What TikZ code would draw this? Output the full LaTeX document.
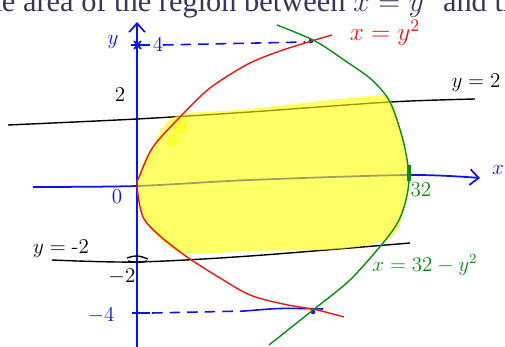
\documentclass[tikz,border=0pt]{standalone}
\usepackage{fontspec}
\newfontfamily\headfont{Liberation Serif}
\usetikzlibrary{arrows.meta}
\definecolor{pblue}{RGB}{10,20,240}
\definecolor{pred}{RGB}{240,20,20}
\definecolor{pgreen}{RGB}{10,140,20}
\definecolor{pyellow}{RGB}{255,255,0}
\definecolor{ptext}{RGB}{55,55,90}
\tikzset{
  curve/.style={line width=0.8pt},
  axisline/.style={pblue,line width=1pt},
  lbl/.style={inner sep=0pt,font=\large},
  dashline/.style={pblue,line width=0.9pt,dash pattern=on 6pt off 4pt},
}
\begin{document}
\begin{tikzpicture}[x=0.02cm,y=-0.02cm]
\useasboundingbox (0,0) rectangle (505,347);
\clip (0,0) rectangle (505,347);
% header text (cut off)
\node[anchor=base west,inner sep=0pt,text=ptext,font=\headfont\fontsize{17.3}{21}\selectfont] (head) at (-22,12) {the area of the region between $x = y^2$ and the};
% axes
\draw[axisline,-{Straight Barb[length=5pt,width=9pt]}] plot[smooth] coordinates {(33,187) (137,186) (250,180) (409,175) (480,178)};
\draw[axisline,-{Straight Barb[length=5pt,width=9pt]}] (137,347) -- (137,22);
% horizontal lines
\draw[curve,black] plot[smooth] coordinates {(8,125) (137,119) (250,112) (390,102) (475,99)};
\draw[curve,black] plot[smooth] coordinates {(52,260) (137,262) (250,256) (410,243)};
% highlighted region
\fill[pyellow,opacity=0.6] plot[smooth cycle] coordinates {(176,116) (250,109) (370,96) (391,101) (403,140) (409,175) (404,210) (390,238) (340,249) (250,251) (187,254) (165,243) (150,228) (141,210) (138,188) (141,168) (153,146)};
\fill[pyellow,opacity=0.5] (180,126) circle (8);
\fill[pyellow,opacity=0.5] (173,141) circle (6);
% ticks
\draw[axisline] (131,45) -- (150,45);
\draw[axisline] (134,41) -- (141,49) (134,49) -- (141,41);
\fill[pblue] (138,45) circle (2.5);
\draw[axisline] (132,313) -- (150,313);
\draw[curve,black] (127,258) .. controls (137,255) .. (148,259);
\draw[curve,black] (128,261) .. controls (138,263) .. (147,261);
\draw[pgreen,line width=2pt] (409,165) -- (409,181);
% dashed guide lines
\draw[dashline] (163,45) -- (305,42);
\fill[pblue] (311,41) circle (2.3);
\draw[dashline] (152,313) -- (245,311);
\draw[pblue,line width=0.9pt] (245,311) .. controls (280,308) .. (323,309);
\fill[pblue] (313,312) circle (2.3);
% parabolas
\draw[curve,pred] plot[smooth] coordinates {(332,35) (315,40) (280,51) (248,64) (210,88) (180,117) (153,147) (140,175) (137,186) (143,217) (160,236) (187,257) (220,278) (250,295) (283,304) (317,310) (344,317)};
\draw[curve,pgreen] plot[smooth] coordinates {(277,25) (315,41) (347,62) (372,80) (390,102) (403,140) (409,175) (406,200) (398,222) (383,243) (350,280) (313,310) (269,345)};
% labels
\node[lbl,text=pblue] (ly) at (113,42) {$y$};
\node[lbl,text=pblue] (l4) at (158,45) {$4$};
\node[lbl,text=pred,font=\Large] (lred) at (385,33) {$x=y^2$};
\node[lbl,black] (l2) at (120,95) {$2$};
\node[lbl,black] (lyt) at (476,83) {$y=2$};
\node[lbl,text=pblue] (l0) at (117,197) {$0$};
\node[lbl,text=pblue] (lx) at (498,170) {$x$};
\node[lbl,text=pgreen] (l32) at (421,190) {$32$};
\node[lbl,black] (lyb) at (61,249) {$y=\mbox{-}2$};
\node[lbl,black] (lm2) at (122,277) {$-2$};
\node[lbl,text=pblue] (lm4) at (101,316) {$-4$};
\node[lbl,text=pgreen] (lgreen) at (425,265) {$x=32-y^2$};
\end{tikzpicture}
\end{document}
